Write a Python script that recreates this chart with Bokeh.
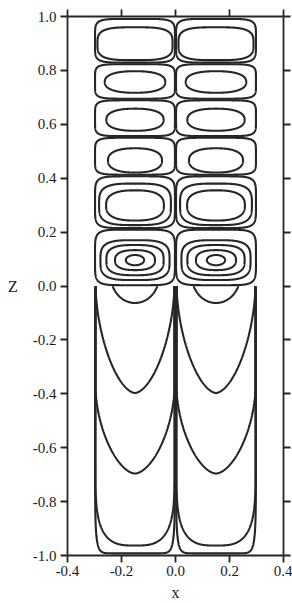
import numpy as np
from bokeh.plotting import figure
from bokeh.models import LinearAxis, FixedTicker, Range1d
from bokeh.embed import file_html
from bokeh.resources import INLINE

# ---------------- data ----------------
x_ticks = [-0.4, -0.2, 0.0, 0.2, 0.4]
x_tick_labels = ["-0.4", "-0.2", "0.0", "0.2", "0.4"]
z_ticks = [-1.0, -0.8, -0.6, -0.4, -0.2, 0.0, 0.2, 0.4, 0.6, 0.8, 1.0]
z_tick_labels = ["-1.0", "-0.8", "-0.6", "-0.4", "-0.2", "0.0", "0.2", "0.4", "0.6", "0.8", "1.0"]

# horizontal centres of the two columns of cells
cell_cx = [-0.15, 0.15]
# z boundaries of the stacked cells in the upper half
cell_bounds = [0.0, 0.212, 0.41, 0.553, 0.692, 0.826, 0.994]
cell_half_width = 0.148

# closed streamlines inside the cells (left column; mirrored on the right)
loop_zc = [0.899, 0.757, 0.617, 0.466, 0.303, 0.299, 0.096, 0.096, 0.096, 0.096]
loop_a = [0.139, 0.112, 0.106, 0.100, 0.133, 0.107, 0.128, 0.106, 0.074, 0.034]
loop_b = [0.061, 0.040, 0.041, 0.045, 0.077, 0.056, 0.074, 0.056, 0.037, 0.019]
loop_n = [3.5, 2.4, 2.4, 2.4, 3.5, 2.6, 3.5, 3.0, 2.5, 2.0]

# open U-shaped streamlines in the lower half
u_top = [0.04, 0.0, -0.38, -0.70, 0.0]
u_bottom = [-0.063, -0.397, -0.696, -0.963, -0.992]
u_a = [0.09, 0.146, 0.146, 0.146, 0.148]
u_n = [2.0, 1.7, 1.7, 3.2, 14.0]

# ---------------- geometry helpers ----------------
def superellipse(cx, cz, a, b, n, t):
    c, s = np.cos(t), np.sin(t)
    x = cx + a * np.sign(c) * np.abs(c) ** (2.0 / n)
    z = cz + b * np.sign(s) * np.abs(s) ** (2.0 / n)
    return x, z

xs, ys = [], []
t_full = np.linspace(0, 2 * np.pi, 721)
t_low = np.linspace(np.pi, 2 * np.pi, 721)

for cx in cell_cx:
    # separatrix-hugging outer loop of each cell
    for z0, z1 in zip(cell_bounds[:-1], cell_bounds[1:]):
        x, z = superellipse(cx, 0.5 * (z0 + z1), cell_half_width, 0.5 * (z1 - z0) - 0.003, 6.0, t_full)
        xs.append(list(x)); ys.append(list(z))
    # inner closed loops
    for zc, a, b, n in zip(loop_zc, loop_a, loop_b, loop_n):
        x, z = superellipse(cx, zc, a, b, n, t_full)
        xs.append(list(x)); ys.append(list(z))
    # U-shaped open lines below
    for top, bot, a, n in zip(u_top, u_bottom, u_a, u_n):
        c, s = np.cos(t_low), np.sin(t_low)
        x = cx + a * np.sign(c) * np.abs(c) ** (2.0 / n)
        z = top + (bot - top) * np.abs(s) ** (2.0 / n)
        keep = z <= 0.0
        x, z = list(x[keep]), list(z[keep])
        if top < 0:
            x = [cx - a] + x + [cx + a]
            z = [0.0] + z + [0.0]
        xs.append(x); ys.append(z)

# ---------------- figure ----------------
ink = "#262626"
serif = "Liberation Serif"

p = figure(width=292, height=603,
           x_range=Range1d(-0.4, 0.4), y_range=Range1d(-1.0, 1.0),
           output_backend="svg", toolbar_location=None,
           x_axis_location=None, y_axis_location=None,
           min_border_left=67, min_border_right=9,
           min_border_top=16, min_border_bottom=47)
p.grid.visible = False
p.outline_line_color = None
p.background_fill_color = "white"
p.border_fill_color = "white"

p.multi_line(xs=xs, ys=ys, line_color=ink, line_width=2.1)

def style_axis(ax):
    ax.axis_line_color = ink
    ax.axis_line_width = 1.8
    ax.major_tick_line_color = ink
    ax.major_tick_line_width = 1.8
    ax.major_tick_out = 7
    ax.major_tick_in = 0
    ax.minor_tick_out = 0
    ax.minor_tick_in = 0
    ax.major_label_text_font = serif
    ax.major_label_text_font_size = "15px"
    ax.major_label_text_color = "#1a1a1a"
    ax.axis_label_text_font = serif
    ax.axis_label_text_font_style = "normal"
    ax.axis_label_text_font_size = "16px"
    ax.axis_label_text_color = "#1a1a1a"

bottom = LinearAxis(ticker=FixedTicker(ticks=x_ticks))
bottom.major_label_overrides = {t: l for t, l in zip(x_ticks, x_tick_labels)}
style_axis(bottom)
bottom.major_label_standoff = 3
bottom.axis_label = "x"
bottom.axis_label_standoff = 5
p.add_layout(bottom, "below")

top = LinearAxis(ticker=FixedTicker(ticks=x_ticks))
style_axis(top)
top.major_label_overrides = {t: "" for t in x_ticks}
top.major_label_standoff = 0
p.add_layout(top, "above")

left = LinearAxis(ticker=FixedTicker(ticks=z_ticks))
left.major_label_overrides = {t: l for t, l in zip(z_ticks, z_tick_labels)}
style_axis(left)
left.major_label_standoff = 4
left.axis_label = "Z"
left.axis_label_standoff = 12
try:
    left.axis_label_orientation = "horizontal"
except Exception:
    pass
p.add_layout(left, "left")

right = LinearAxis(ticker=FixedTicker(ticks=z_ticks))
style_axis(right)
right.major_label_overrides = {t: "" for t in z_ticks}
right.major_label_standoff = 0
p.add_layout(right, "right")

open("out.html", "w").write(file_html(p, INLINE))
